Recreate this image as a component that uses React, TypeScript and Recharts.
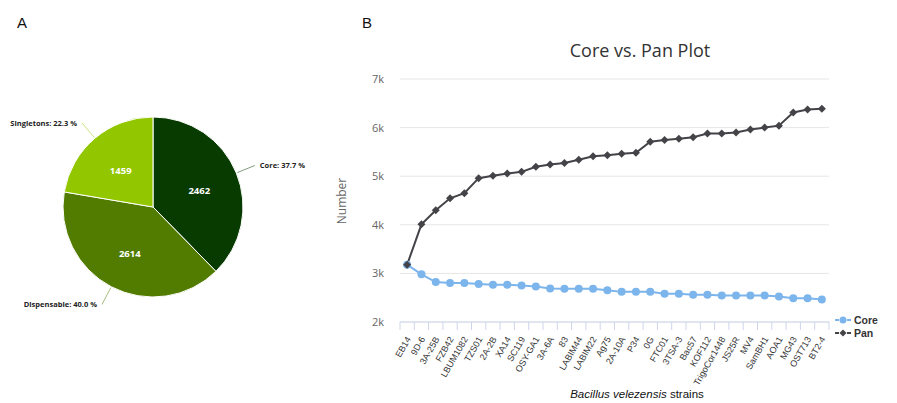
import { CartesianGrid, Cell, Line, LineChart, Pie, PieChart, XAxis, YAxis } from "recharts";

// Pan-genome composition (pie)
const pieNames = ["Core", "Dispensable", "Singletons"];
const pieValues = [2462, 2614, 1459];
const pieColors = ["#073b00", "#517c00", "#92c700"];

// Core vs. Pan curve
const strains = [
  "EB14", "9D-6", "3A-25B", "FZB42", "LBUM1082", "TZS01", "2A-2B", "XA14", "SC119", "OSY-GA1",
  "3A-6A", "83", "LABIM44", "LABIM22", "Ag75", "2A-10A", "P34", "0G", "FTC01", "3TSA-3",
  "Bac57", "KOF112", "TrigoCor1448", "JS25R", "MV4", "SamBH1", "AOA1", "MG43", "OST713", "BT2-4",
];
const coreCounts = [
  3180, 2980, 2822, 2800, 2800, 2780, 2766, 2766, 2752, 2730,
  2690, 2683, 2683, 2683, 2655, 2620, 2620, 2620, 2580, 2580,
  2560, 2560, 2545, 2545, 2545, 2545, 2525, 2490, 2490, 2462,
];
const panCounts = [
  3180, 4010, 4300, 4545, 4650, 4960, 5010, 5055, 5090, 5195,
  5240, 5270, 5340, 5410, 5430, 5460, 5480, 5710, 5745, 5770,
  5800, 5880, 5880, 5900, 5960, 6000, 6040, 6310, 6370, 6390,
];
const yTicks = [2000, 3000, 4000, 5000, 6000, 7000];

const pieData = pieNames.map((name, i) => ({ name, value: pieValues[i] }));
const lineData = strains.map((strain, i) => ({ strain, core: coreCounts[i], pan: panCounts[i] }));

const CORE_COLOR = "#7cb5ec";
const PAN_COLOR = "#434348";
const RAD = Math.PI / 180;
const HALF_BAND = 429 / strains.length / 2;

function SliceLabel(props: any) {
  const { cx, cy, midAngle, outerRadius, percent, name, value, fill } = props;
  const cos = Math.cos(-midAngle * RAD);
  const sin = Math.sin(-midAngle * RAD);
  const sx = cx + (outerRadius + 1) * cos;
  const sy = cy + (outerRadius + 1) * sin;
  const ex = cx + (outerRadius + 20) * cos;
  const ey = cy + (outerRadius + 20) * sin;
  const right = cos >= 0;
  return (
    <g>
      <path d={`M${sx},${sy}L${ex},${ey}`} stroke={fill} strokeOpacity={0.5} fill="none" />
      <text
        x={ex + (right ? 5 : -5)}
        y={ey}
        textAnchor={right ? "start" : "end"}
        dominantBaseline="central"
        fontSize={7.5}
        fontWeight="bold"
        fill="#222"
        fontFamily="'Open Sans', sans-serif"
      >
        {`${name}: ${(percent * 100).toFixed(1)} %`}
      </text>
      <text
        x={cx + 50 * cos}
        y={cy + 50 * sin + 2}
        textAnchor="middle"
        dominantBaseline="central"
        fontSize={9.5}
        fontWeight="bold"
        fill="#fff"
        fontFamily="'Open Sans', sans-serif"
      >
        {value}
      </text>
    </g>
  );
}

function Diamond(props: any) {
  const { cx, cy } = props;
  if (cx == null || cy == null) return <g />;
  return <path d={`M${cx},${cy - 4}L${cx + 4},${cy}L${cx},${cy + 4}L${cx - 4},${cy}Z`} fill={PAN_COLOR} />;
}

function StrainTick(props: any) {
  const { x, y, payload, index } = props;
  const tx = x + 4;
  const ty = y + 17;
  return (
    <g>
      <line x1={x - HALF_BAND} x2={x - HALF_BAND} y1={y} y2={y + 8} stroke="#ccd6eb" />
      {index === strains.length - 1 && (
        <line x1={x + HALF_BAND} x2={x + HALF_BAND} y1={y} y2={y + 8} stroke="#ccd6eb" />
      )}
      <text
        x={tx}
        y={ty}
        textAnchor="end"
        transform={`rotate(-60 ${tx} ${ty})`}
        fontSize={9}
        fill="#333"
        fontFamily="'Liberation Sans', Arial, sans-serif"
      >
        {payload.value}
      </text>
    </g>
  );
}

const legendItems = [
  { label: "Core", color: CORE_COLOR, marker: "circle" },
  { label: "Pan", color: PAN_COLOR, marker: "diamond" },
];

function LegendBox() {
  return (
    <div style={{ position: "absolute", left: 835, top: 314, display: "flex", flexDirection: "column" }}>
      {legendItems.map((it) => (
        <div key={it.label} style={{ display: "flex", alignItems: "center", height: 12.5 }}>
          <svg width={16} height={10}>
            <line x1={0} x2={16} y1={5} y2={5} stroke={it.color} strokeWidth={2} strokeDasharray="4 2" />
            {it.marker === "circle" ? (
              <circle cx={8} cy={5} r={3.5} fill={it.color} />
            ) : (
              <path d="M8,1.5L11.5,5L8,8.5L4.5,5Z" fill={it.color} />
            )}
          </svg>
          <span
            style={{
              marginLeft: 3,
              fontSize: 10.5,
              lineHeight: "10px",
              fontWeight: "bold",
              color: "#333",
              fontFamily: "'Liberation Sans', Arial, sans-serif",
            }}
          >
            {it.label}
          </span>
        </div>
      ))}
    </div>
  );
}

export default function App() {
  return (
    <div
      style={{
        position: "fixed",
        left: 0,
        top: 0,
        width: 897,
        height: 403,
        background: "#fff",
        overflow: "hidden",
        fontFamily: "'Liberation Sans', Arial, sans-serif",
      }}
    >
      <div style={{ position: "absolute", left: 17, top: 14, fontSize: 15, color: "#111" }}>A</div>
      <div style={{ position: "absolute", left: 362, top: 14, fontSize: 15, color: "#111" }}>B</div>

      <div style={{ position: "absolute", left: 0, top: 0 }}>
        <PieChart width={340} height={403}>
          <Pie
            data={pieData}
            dataKey="value"
            nameKey="name"
            cx={148}
            cy={202}
            outerRadius={90}
            startAngle={90}
            endAngle={-270}
            stroke="#fff"
            strokeWidth={1}
            label={SliceLabel}
            labelLine={false}
            isAnimationActive={false}
          >
            {pieData.map((d, i) => (
              <Cell key={d.name} fill={pieColors[i]} />
            ))}
          </Pie>
        </PieChart>
      </div>

      <div
        style={{
          position: "absolute",
          left: 440,
          top: 38,
          width: 400,
          textAlign: "center",
          fontSize: 18,
          color: "#333",
          fontFamily: "'Open Sans', sans-serif",
        }}
      >
        Core vs. Pan Plot
      </div>
      <div
        style={{
          position: "absolute",
          left: 341,
          top: 201,
          transform: "translate(-50%, -50%) rotate(-90deg)",
          fontSize: 12,
          color: "#666",
          fontFamily: "'Open Sans', sans-serif",
          whiteSpace: "nowrap",
        }}
      >
        Number
      </div>
      <div
        style={{
          position: "absolute",
          left: 330,
          top: 388,
          width: 614,
          textAlign: "center",
          fontSize: 11.5,
          color: "#111",
        }}
      >
        <i>Bacillus velezensis</i> strains
      </div>

      <div style={{ position: "absolute", left: 330, top: 0 }}>
        <LineChart width={567} height={403} data={lineData} margin={{ top: 79, right: 68, bottom: 0, left: 0 }}>
          <CartesianGrid horizontal vertical={false} stroke="#e6e6e6" />
          <XAxis
            dataKey="strain"
            interval={0}
            height={81}
            padding={{ left: HALF_BAND, right: HALF_BAND }}
            axisLine={{ stroke: "#ccd6eb" }}
            tickLine={false}
            tickSize={0}
            tickMargin={0}
            tick={StrainTick}
          />
          <YAxis
            domain={[2000, 7000]}
            ticks={yTicks}
            width={70}
            axisLine={false}
            tickLine={false}
            tickSize={0}
            tickMargin={16}
            tickFormatter={(v: number) => `${v / 1000}k`}
            tick={{ fill: "#666", fontSize: 11, fontFamily: "'Open Sans', sans-serif" }}
          />
          <Line
            dataKey="core"
            name="Core"
            stroke={CORE_COLOR}
            strokeWidth={2}
            dot={{ r: 4, fill: CORE_COLOR, stroke: "none" }}
            isAnimationActive={false}
          />
          <Line
            dataKey="pan"
            name="Pan"
            stroke={PAN_COLOR}
            strokeWidth={2}
            dot={Diamond}
            isAnimationActive={false}
          />
        </LineChart>
      </div>
      <LegendBox />
    </div>
  );
}
